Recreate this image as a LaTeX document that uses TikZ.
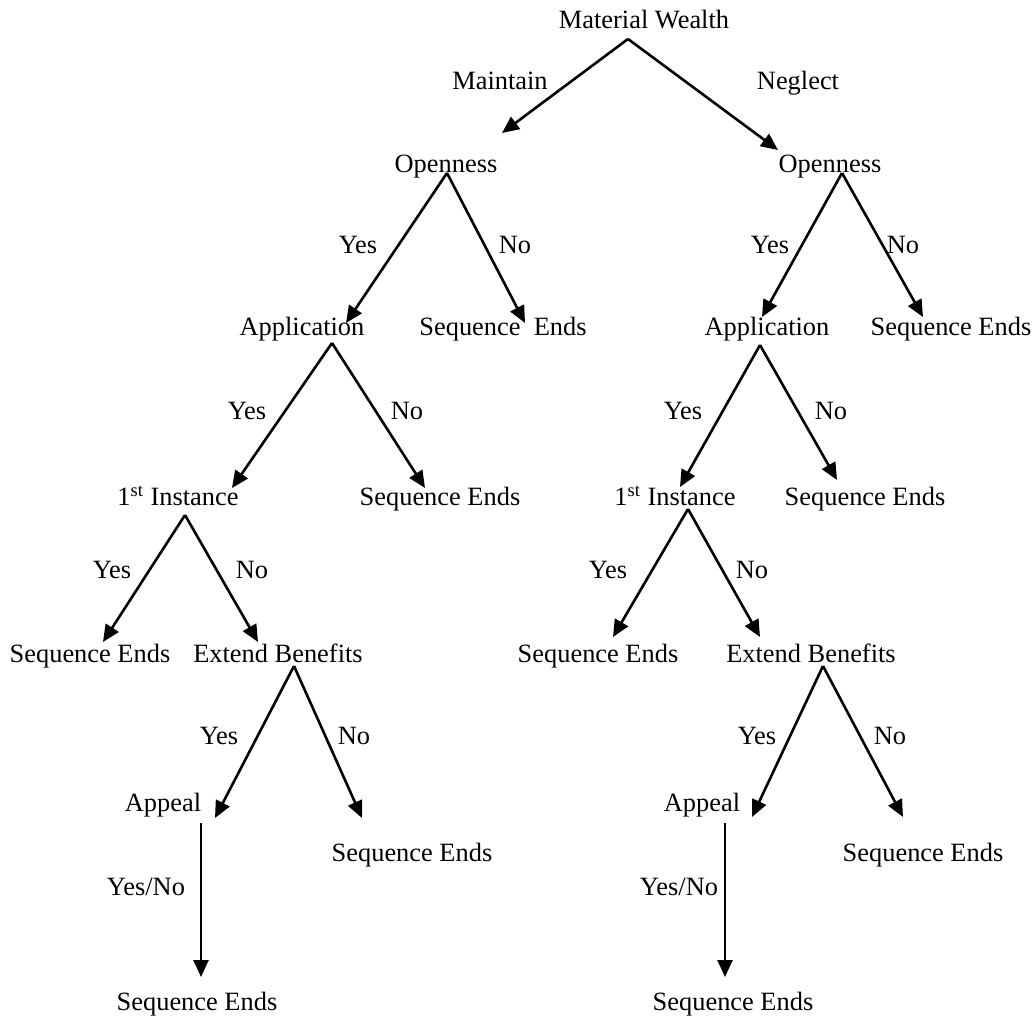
\documentclass[tikz,border=0pt]{standalone}
\usepackage{fontspec}
\setmainfont{Liberation Serif}
\usetikzlibrary{arrows.meta}

\begin{document}
\begin{tikzpicture}[x=0.5pt, y=-0.5pt,
	every node/.style={inner sep=0pt, anchor=base, font=\fontsize{13.2}{16}\selectfont},
	branch/.style={-{Triangle[length=8.5pt, width=7.5pt]}, line width=1.3pt}]

% frame %{{{2

	\useasboundingbox (0,0) rectangle (1034,1017);

% nodes %{{{2

	\node (mw) at (644,28) {Material Wealth};

	\node (openL) at (446,172) {Openness};
	\node (openR) at (830,172) {Openness};

	\node (appL) at (302,335) {Application};
	\node (endL1) at (503,335) {Sequence\ \ Ends};
	\node (appR) at (767,335) {Application};
	\node (endR1) at (951,335) {Sequence Ends};

	\node (instL) at (178,505) {1\textsuperscript{st} Instance};
	\node (endL2) at (440,505) {Sequence Ends};
	\node (instR) at (675,505) {1\textsuperscript{st} Instance};
	\node (endR2) at (865,505) {Sequence Ends};

	\node (endL3) at (90,662) {Sequence Ends};
	\node (ebL) at (278,662) {Extend Benefits};
	\node (endR3) at (598,662) {Sequence Ends};
	\node (ebR) at (811,662) {Extend Benefits};

	\node (appealL) at (163,811) {Appeal};
	\node (endL4) at (412,861) {Sequence Ends};
	\node (appealR) at (702,811) {Appeal};
	\node (endR4) at (923,861) {Sequence Ends};

	\node (endL5) at (197,1010) {Sequence Ends};
	\node (endR5) at (733,1010) {Sequence Ends};

% branch labels %{{{2

	\node (maintain) at (500,90) {Maintain};
	\node (neglect) at (798,90) {Neglect};

	\node (yesL1) at (358,253) {Yes};
	\node (noL1) at (515,253) {No};
	\node (yesR1) at (770,253) {Yes};
	\node (noR1) at (903,253) {No};

	\node (yesL2) at (247,419) {Yes};
	\node (noL2) at (407,419) {No};
	\node (yesR2) at (683,419) {Yes};
	\node (noR2) at (831,419) {No};

	\node (yesL3) at (112,578) {Yes};
	\node (noL3) at (252,578) {No};
	\node (yesR3) at (608,578) {Yes};
	\node (noR3) at (752,578) {No};

	\node (yesL4) at (219,744) {Yes};
	\node (noL4) at (354,744) {No};
	\node (yesR4) at (757,744) {Yes};
	\node (noR4) at (890,744) {No};

	\node (eitherL) at (146,895) {Yes/No};
	\node (eitherR) at (679,895) {Yes/No};

% split points %{{{2

	\coordinate (mw-s) at (628,39);
	\coordinate (openL-s) at (447,173);
	\coordinate (openR-s) at (842,173);
	\coordinate (appL-s) at (332,343);
	\coordinate (appR-s) at (760,345);
	\coordinate (instL-s) at (185,515);
	\coordinate (instR-s) at (688,509);
	\coordinate (ebL-s) at (294,666);
	\coordinate (ebR-s) at (823,666);
	\coordinate (appealL-s) at (201,823);
	\coordinate (appealR-s) at (725,823);

% arrow tips %{{{2

	\coordinate (openL-t) at (502,133);
	\coordinate (openR-t) at (778,150);
	\coordinate (appL-t) at (346,323);
	\coordinate (endL1-t) at (525,323);
	\coordinate (appR-t) at (762,317);
	\coordinate (endR1-t) at (923,317);
	\coordinate (instL-t) at (232,488);
	\coordinate (endL2-t) at (425,488);
	\coordinate (instR-t) at (680,487);
	\coordinate (endR2-t) at (837,480);
	\coordinate (endL3-t) at (103,642);
	\coordinate (ebL-t) at (258,642);
	\coordinate (endR3-t) at (613,637);
	\coordinate (ebR-t) at (760,637);
	\coordinate (appealL-t) at (215,818);
	\coordinate (endL4-t) at (362,818);
	\coordinate (appealR-t) at (752,817);
	\coordinate (endR4-t) at (903,817);
	\coordinate (endL5-t) at (201,977);
	\coordinate (endR5-t) at (725,977);

% branches %{{{2

	\draw[branch] (mw-s) -- (openL-t);
	\draw[branch] (mw-s) -- (openR-t);

	\draw[branch] (openL-s) -- (appL-t);
	\draw[branch] (openL-s) -- (endL1-t);
	\draw[branch] (openR-s) -- (appR-t);
	\draw[branch] (openR-s) -- (endR1-t);

	\draw[branch] (appL-s) -- (instL-t);
	\draw[branch] (appL-s) -- (endL2-t);
	\draw[branch] (appR-s) -- (instR-t);
	\draw[branch] (appR-s) -- (endR2-t);

	\draw[branch] (instL-s) -- (endL3-t);
	\draw[branch] (instL-s) -- (ebL-t);
	\draw[branch] (instR-s) -- (endR3-t);
	\draw[branch] (instR-s) -- (ebR-t);

	\draw[branch] (ebL-s) -- (appealL-t);
	\draw[branch] (ebL-s) -- (endL4-t);
	\draw[branch] (ebR-s) -- (appealR-t);
	\draw[branch] (ebR-s) -- (endR4-t);

	\draw[branch] (appealL-s) -- (endL5-t);
	\draw[branch] (appealR-s) -- (endR5-t);

% closing %{{{2

\end{tikzpicture}
\end{document}
